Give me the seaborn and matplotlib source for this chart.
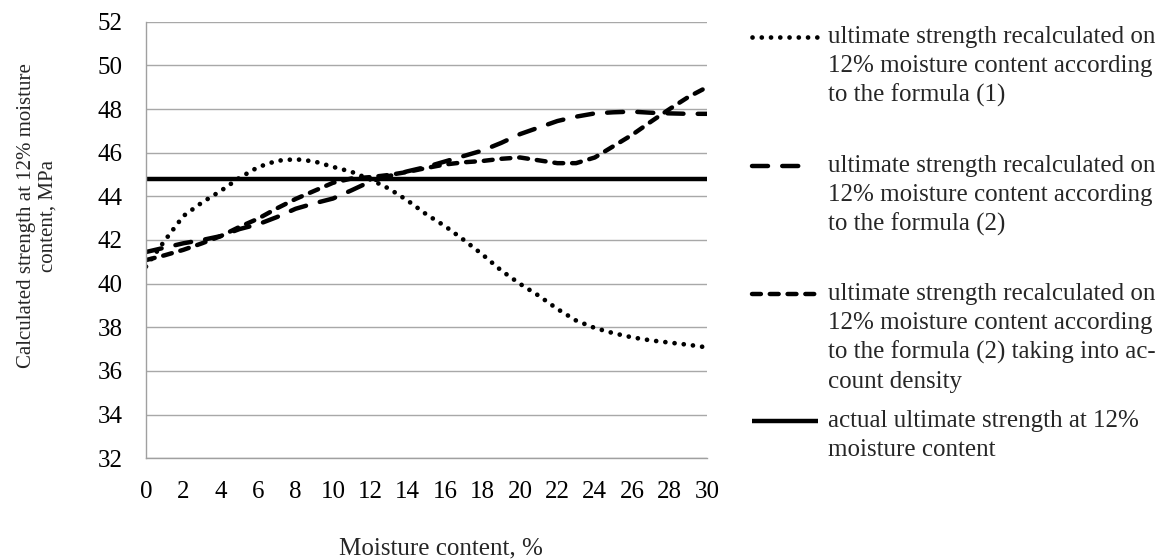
import matplotlib
matplotlib.use("Agg")
import matplotlib.pyplot as plt
from matplotlib.lines import Line2D
import seaborn as sns
import pandas as pd

# ---------------- data ----------------
moisture = list(range(0, 31))
formula1 = [40.78, 41.97, 43.10, 43.72, 44.25, 44.85, 45.34, 45.63, 45.70, 45.60,
            45.35, 45.12, 44.77, 44.35, 43.80, 43.17, 42.63, 42.00, 41.33, 40.60,
            39.99, 39.45, 38.84, 38.31, 37.97, 37.73, 37.54, 37.40, 37.30, 37.20, 37.08]
formula2 = [41.45, 41.65, 41.85, 42.00, 42.18, 42.50, 42.72, 43.05, 43.43, 43.68,
            43.90, 44.28, 44.68, 44.93, 45.15, 45.35, 45.60, 45.85, 46.10, 46.45,
            46.85, 47.15, 47.45, 47.65, 47.80, 47.85, 47.88, 47.83, 47.80, 47.78, 47.78]
formula2_density = [41.08, 41.30, 41.55, 41.85, 42.18, 42.60, 42.98, 43.45, 43.88, 44.25,
                    44.62, 44.82, 44.88, 44.98, 45.12, 45.30, 45.46, 45.56, 45.62, 45.72,
                    45.78, 45.65, 45.52, 45.52, 45.78, 46.30, 46.82, 47.42, 48.00, 48.55, 49.00]
actual_x = [0, 30]
actual_strength = [44.8, 44.8]

x_ticks = list(range(0, 31, 2))
y_ticks = list(range(32, 53, 2))

legend_labels = [
    "ultimate strength recalculated on\n12% moisture content according\nto the formula (1)",
    "ultimate strength recalculated on\n12% moisture content according\nto the formula (2)",
    "ultimate strength recalculated on\n12% moisture content according\nto the formula (2) taking into ac-\ncount density",
    "actual ultimate strength at 12%\nmoisture content",
]
x_label = "Moisture content, %"
y_label = "Calculated strength at 12% moisture\ncontent, MPa"

# ---------------- styling ----------------
sns.set_theme(style="white")
plt.rcParams["font.family"] = ["Liberation Serif", "DejaVu Serif"]
FS = 18

W, H = 1168, 559
fig = plt.figure(figsize=(W / 100, H / 100), dpi=100)
ax = fig.add_axes([146 / W, 1 - 458.3 / H, (707 - 146) / W, (458.3 - 21.7) / H])

styles = [
    dict(linestyle=(0, (0.01, 1.95)), linewidth=3.4, dash_capstyle="round", solid_capstyle="round"),
    dict(linestyle=(0, (3.6, 3.2)), linewidth=3.2, dash_capstyle="round"),
    dict(linestyle=(0, (2.0, 2.0)), linewidth=3.2, dash_capstyle="round"),
    dict(linestyle="-", linewidth=3.2, solid_capstyle="butt"),
]

series = [(moisture, formula1), (moisture, formula2), (moisture, formula2_density),
          (actual_x, actual_strength)]
for (xs, ys), st in zip(series, styles):
    df = pd.DataFrame({"x": xs, "y": ys})
    sns.lineplot(data=df, x="x", y="y", ax=ax, color="black", **st)

ax.set_xlim(0, 30)
ax.set_ylim(32, 52)
ax.set_xticks(x_ticks)
ax.set_yticks(y_ticks)
ax.set_xticklabels([str(v) for v in x_ticks])
ax.set_yticklabels([str(v) for v in y_ticks])
ax.set_xlabel("")
ax.set_ylabel("")

ax.grid(axis="y", color="#a8a8a8", linewidth=1.0)
ax.grid(axis="x", visible=False)
for s in ["top", "right"]:
    ax.spines[s].set_visible(False)
for s in ["left", "bottom"]:
    ax.spines[s].set_color("#a0a0a0")
    ax.spines[s].set_linewidth(1.0)
ax.tick_params(axis="both", which="major", direction="out", length=5, width=1,
               color="#a0a0a0", labelsize=FS, labelcolor="black")
ax.tick_params(axis="x", pad=11)
ax.tick_params(axis="y", pad=12)

# axis titles
fig.text(441 / W, 1 - 548 / H, x_label, ha="center", va="center", fontsize=FS)
fig.text(37.5 / W, 1 - 216 / H, y_label, ha="center", va="center", rotation=90,
         fontsize=15, multialignment="center", linespacing=1.2)

# legend (drawn manually so handles sit at the first text line)
entry_y = [37, 166, 294, 421]
handle_x = [(752, 822), (752, 806), (752, 818), (752, 818)]
line_step = 29.3
for label, y0, (hx0, hx1), st in zip(legend_labels, entry_y, handle_x, styles):
    fig.add_artist(Line2D([hx0 / W, hx1 / W], [1 - y0 / H, 1 - y0 / H],
                          transform=fig.transFigure, color="black", **st))
    for i, line in enumerate(label.split("\n")):
        fig.text(828 / W, 1 - (y0 + i * line_step) / H, line, ha="left", va="center",
                 fontsize=FS)

fig.savefig("out.png", dpi=100)
